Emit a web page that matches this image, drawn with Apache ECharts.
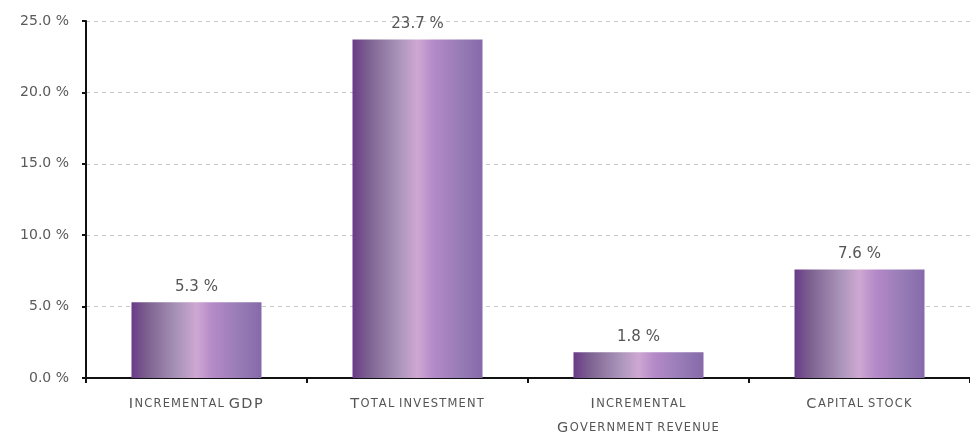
<!DOCTYPE html>
<html>
<head>
<meta charset="utf-8">
<script src="https://cdn.jsdelivr.net/npm/echarts@6/dist/echarts.min.js"></script>
<style>
  html, body { margin: 0; padding: 0; background: #fff; }
  #chart { width: 970px; height: 440px; }
</style>
</head>
<body>
<div id="chart"></div>
<script>
const categories = ['Incremental GDP', 'Total investment', 'Incremental\nGovernment revenue', 'Capital stock'];
const values = [5.3, 23.7, 1.8, 7.6];
const yTicks = [0, 5, 10, 15, 20, 25];

// fake small caps: capitals stay big, lower case becomes small capitals, letters a bit spaced
const smallCaps = (text) => text.split('\n').map((line) => {
  let out = '';
  for (const ch of line) {
    if (ch === ' ') out += '{s| }';
    else if (ch === ch.toUpperCase()) out += '{b|' + ch + '\u200A}';
    else out += '{s|' + ch.toUpperCase() + '\u200A}';
  }
  return out;
}).join('\n');

const myChart = echarts.init(document.getElementById('chart'));

const barColor = new echarts.graphic.LinearGradient(0, 0, 1, 0, [
  { offset: 0, color: '#6a3a88' },
  { offset: 0.12, color: '#7c6190' },
  { offset: 0.35, color: '#a993b8' },
  { offset: 0.5, color: '#cea8d2' },
  { offset: 0.62, color: '#b58ac8' },
  { offset: 0.85, color: '#947ab4' },
  { offset: 1, color: '#8669aa' }
]);

const option = {
  backgroundColor: '#fff',
  animation: false,
  grid: { left: 86, right: 0, top: 21, bottom: 52, containLabel: false },
  xAxis: {
    type: 'category',
    data: categories,
    axisLine: { lineStyle: { color: '#111', width: 2 } },
    axisTick: { show: true, length: 5, lineStyle: { color: '#111', width: 2 } },
    axisLabel: {
      margin: 14,
      interval: 0,
      lineHeight: 24,
      formatter: (v) => smallCaps(v),
      rich: {
        b: { fontFamily: 'DejaVu Sans', fontSize: 14.5, color: '#555', lineHeight: 24 },
        s: { fontFamily: 'DejaVu Sans', fontSize: 11.5, color: '#555', lineHeight: 24 }
      }
    }
  },
  yAxis: {
    type: 'value',
    min: yTicks[0],
    max: yTicks[yTicks.length - 1],
    interval: 5,
    axisLine: { show: true, lineStyle: { color: '#111', width: 2 } },
    axisTick: { show: true, length: 4, lineStyle: { color: '#111', width: 2 } },
    axisLabel: {
      margin: 17,
      color: '#5a5a5a',
      fontFamily: 'DejaVu Sans',
      fontSize: 14,
      formatter: (v) => v.toFixed(1) + ' %'
    },
    splitLine: { show: true, lineStyle: { color: '#c8c8c8', type: [4, 4], width: 1 } }
  },
  series: [{
    type: 'bar',
    data: values,
    barWidth: 130,
    itemStyle: { color: barColor },
    label: {
      show: true,
      position: 'top',
      distance: 8,
      color: '#555',
      fontFamily: 'DejaVu Sans',
      fontSize: 15,
      formatter: (p) => p.value.toFixed(1) + ' %'
    }
  }]
};

myChart.setOption(option);
</script>
</body>
</html>
